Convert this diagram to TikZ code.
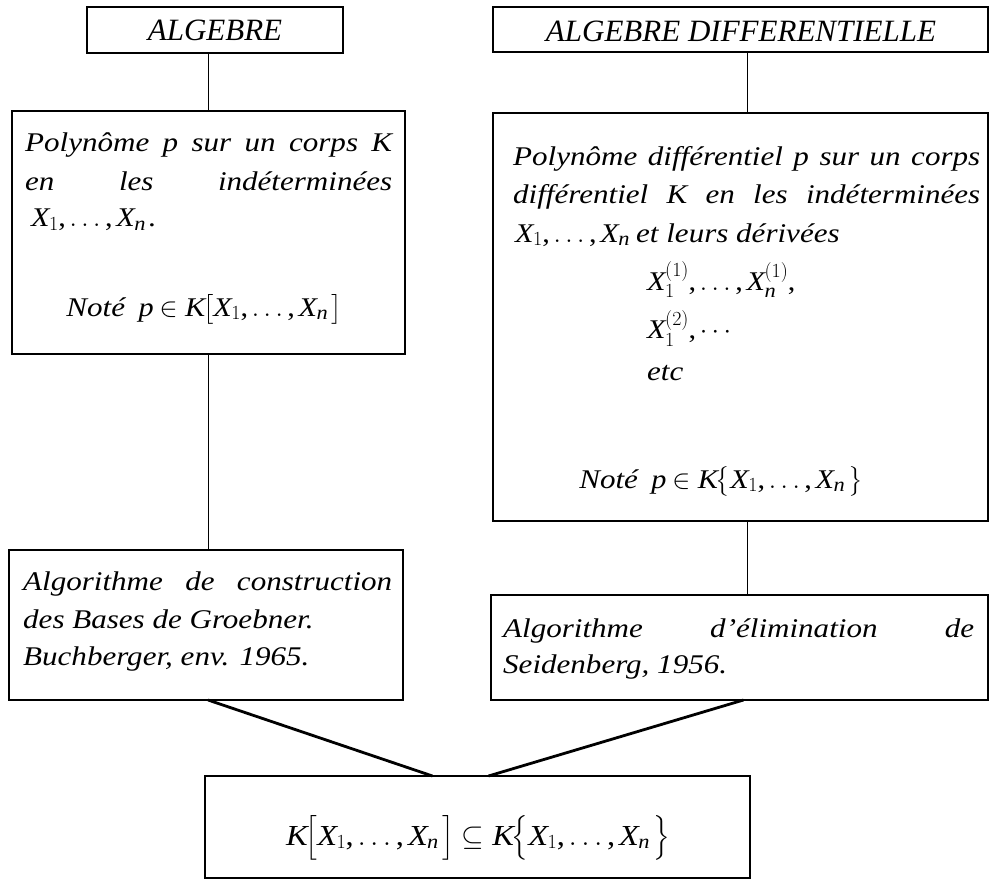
\RequirePackage{fix-cm}
\documentclass[tikz,border=0pt]{standalone}
\usepackage{amsmath}
\usepackage{fontspec}
\setmainfont{Liberation Serif}
\newfontfamily\bodyfont{Liberation Serif}[FakeStretch=1.15]
\newfontfamily\tmsfam{Liberation Serif}[NFSSFamily=tmsx, FakeStretch=1.12]
\DeclareSymbolFont{tmsit}{TU}{tmsx}{m}{it}
\DeclareSymbolFont{tmsup}{TU}{tmsx}{m}{n}
\DeclareMathSymbol{X}{\mathalpha}{tmsit}{`X}
\DeclareMathSymbol{K}{\mathalpha}{tmsit}{`K}
\DeclareMathSymbol{p}{\mathalpha}{tmsit}{`p}
\DeclareMathSymbol{n}{\mathalpha}{tmsit}{`n}
\DeclareMathSymbol{1}{\mathalpha}{tmsup}{`1}
\DeclareMathSymbol{2}{\mathalpha}{tmsup}{`2}
\DeclareMathSymbol{(}{\mathopen}{tmsup}{`(}
\DeclareMathSymbol{)}{\mathclose}{tmsup}{`)}
\DeclareMathSymbol{,}{\mathpunct}{tmsup}{`,}
\newcommand\smallmath[1]{{\fontsize{20}{20}\selectfont$#1$}}
\newcommand\Xv[1]{X\kern1.5pt\raisebox{-3pt}{\smallmath{#1}}}
\newcommand\Xsp[2]{X\kern1.5pt\rlap{\raisebox{-8pt}{\smallmath{#1}}}\raisebox{13pt}{\smallmath{(#2)}}}
\tikzset{
  mybox/.style={draw, line width=1.8pt, rectangle, inner sep=0pt, outer sep=0pt, anchor=north west},
  mytitle/.style={anchor=base, inner sep=0pt, font=\fontsize{31}{39}\selectfont\itshape},
  mytxt/.style={anchor=base west, inner sep=0pt, font=\bodyfont\fontsize{27}{39}\selectfont\itshape},
  myctxt/.style={anchor=base, inner sep=0pt, font=\bodyfont\fontsize{27}{39}\selectfont\itshape},
  myform/.style={anchor=base, inner sep=0pt, font=\bodyfont\fontsize{29}{40}\selectfont\itshape},
  mylink/.style={line width=1.8pt},
  mydiag/.style={line width=2.8pt},
}
\begin{document}
\begin{tikzpicture}[x=1pt,y=-1pt]
\fill[white] (0,0) rectangle (989,880);
\useasboundingbox (0,0) rectangle (989,880);
% boxes
\node[mybox,minimum width=256,minimum height=46] (ta) at (87,7) {};
\node[mybox,minimum width=495,minimum height=45] (tb) at (493,7) {};
\node[mybox,minimum width=393,minimum height=243] (lp) at (12,111) {};
\node[mybox,minimum width=495,minimum height=408] (rp) at (493,113) {};
\node[mybox,minimum width=394,minimum height=150] (la) at (9,550) {};
\node[mybox,minimum width=497,minimum height=105] (ra) at (491,595) {};
\node[mybox,minimum width=545,minimum height=102] (bx) at (205,776) {};
% texts
\node[mytitle] (tat) at (215,41) {ALGEBRE};
\node[mytitle] (tbt) at (741,42) {ALGEBRE DIFFERENTIELLE};
\node[mytxt] (lp1) at (25,152) {\makebox[367pt][s]{Polynôme p sur un corps K}};
\node[mytxt] (lp2) at (25,191) {\makebox[367pt][s]{en les indéterminées}};
\node[mytxt] (lp3) at (31,227) {$\Xv1,\ldots,\Xv n$\,.};
\node[myctxt] (lp4) at (204,316) {Noté\enspace$p\in K\bigl[\Xv1,\ldots,\Xv n\,\bigr]$};
\node[mytxt] (rp1) at (513,166) {\makebox[467pt][s]{Polynôme différentiel p sur un corps}};
\node[mytxt] (rp2) at (513,204) {\makebox[467pt][s]{différentiel K en les indéterminées}};
\node[mytxt] (rp3) at (515,243) {$\Xv1,\ldots,\Xv n$ et leurs dérivées};
\node[mytxt] (rp4) at (647,290) {$\Xsp11,\ldots,\Xsp n1,$};
\node[mytxt] (rp5) at (647,338) {$\Xsp12,\cdots$};
\node[mytxt] (rp6) at (647,380) {etc};
\node[myctxt] (rp7) at (721,488) {Noté\enspace$p\in K\bigl\{\Xv1,\ldots,\Xv n\,\bigr\}$};
\node[mytxt] (la1) at (23,590) {\makebox[369pt][s]{Algorithme de construction}};
\node[mytxt] (la2) at (23,628) {des Bases de Groebner.};
\node[mytxt] (la3) at (23,665) {Buchberger, env. 1965.};
\node[mytxt] (ra1) at (503,637) {\makebox[471pt][s]{Algorithme d’élimination de}};
\node[mytxt] (ra2) at (503,673) {Seidenberg, 1956.};
\node[myform] (bxt) at (478,845) {$K\bigl[\Xv1,\ldots,\Xv n\,\bigr]\subseteq K\bigl\{\Xv1,\ldots,\Xv n\,\bigr\}$};
% connectors
\draw[mylink] (lp.north) -- (lp.north |- ta.south);
\draw[mylink] ([xshift=7pt]tb.south) -- ([xshift=7pt]tb.south |- rp.north);
\draw[mylink] (lp.south) -- (lp.south |- la.north);
\draw[mylink] ([xshift=7pt]rp.south) -- ([xshift=7pt]rp.south |- ra.north);
\draw[mydiag] ([xshift=2pt]la.south) -- ([xshift=-45pt]bx.north);
\draw[mydiag] ([xshift=4pt]ra.south) -- ([xshift=11pt]bx.north);
\end{tikzpicture}
\end{document}
